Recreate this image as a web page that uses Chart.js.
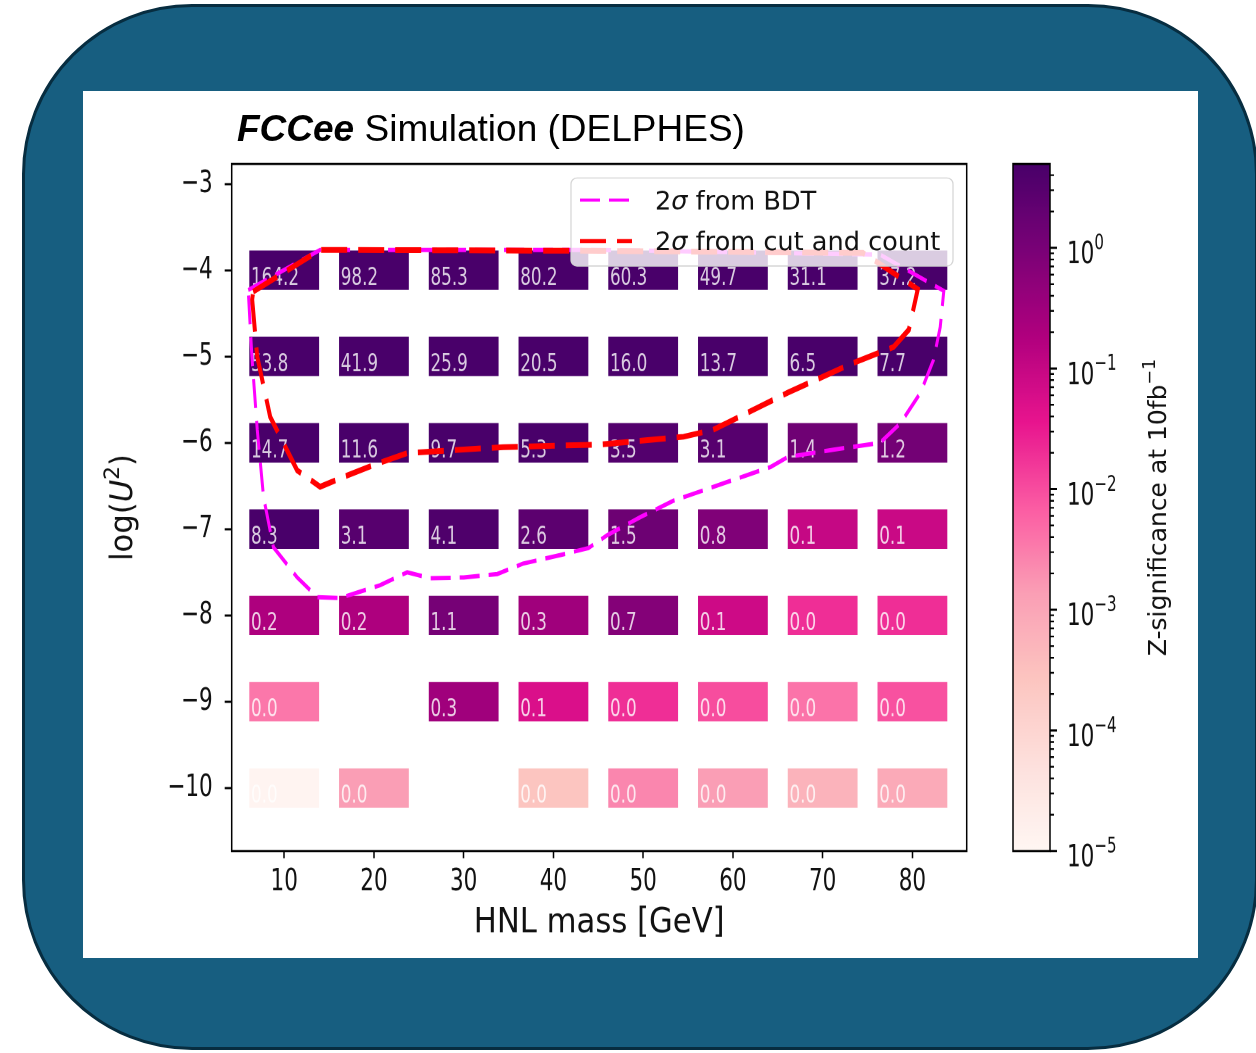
<!DOCTYPE html>
<html>
<head>
<meta charset="utf-8">
<script src="https://cdn.jsdelivr.net/npm/chart.js@4.4.1/dist/chart.umd.min.js"></script>
<style>
  html, body { margin: 0; padding: 0; background: #fff; }
  body { width: 1256px; height: 1053px; position: relative; overflow: hidden; }
  #frame {
    position: absolute; left: 22px; top: 4px; width: 1236px; height: 1046px;
    box-sizing: border-box; border-radius: 170px;
    background: #175e80; border: 3px solid #072d40;
  }
  #panel { position: absolute; left: 83px; top: 91px; width: 1115px; height: 867px; background: #fff; }
  #title {
    position: absolute; left: 237px; top: 110px; white-space: nowrap;
    font: 37px "Liberation Sans", Arial, sans-serif; line-height: 37px; color: #000;
  }
  #title b { font-style: italic; }
  #stretch {
    position: absolute; left: 0; top: 0; width: 1256px; height: 726.2px;
    transform-origin: 0 0; transform: scaleY(1.45);
  }
</style>
</head>
<body>
<div id="frame"></div>
<div id="panel"></div>
<div id="stretch"><canvas id="chart"></canvas></div>
<div id="title"><b>FCCee</b> Simulation (DELPHES)</div>

<script>
// the matplotlib picture was pasted stretched vertically by this factor
const STRETCH = 1.45;

const masses = [10, 20, 30, 40, 50, 60, 70, 80];
const logU2Rows = [-4, -5, -6, -7, -8, -9, -10];

// Z-significance per row (log U^2 = -4 ... -10), null = no cell
const zRowM4 = [164.2, 98.2, 85.3, 80.2, 60.3, 49.7, 31.1, 37.2];
const zRowM5 = [53.8, 41.9, 25.9, 20.5, 16.0, 13.7, 6.5, 7.7];
const zRowM6 = [14.7, 11.6, 9.7, 5.3, 3.5, 3.1, 1.4, 1.2];
const zRowM7 = [8.3, 3.1, 4.1, 2.6, 1.5, 0.8, 0.1, 0.09];
const zRowM8 = [0.2, 0.2, 1.1, 0.3, 0.7, 0.08, 0.02, 0.02];
const zRowM9 = [0.0036, null, 0.3, 0.055, 0.02, 0.01, 0.004, 0.009];
const zRowM10 = [0.000012, 0.0014, null, 0.00026, 0.0025, 0.0014, 0.00058, 0.00086];
const zRows = [zRowM4, zRowM5, zRowM6, zRowM7, zRowM8, zRowM9, zRowM10];

// 2 sigma contour from BDT
const bdtMass = [5.99, 14.0, 45.2, 76.4, 83.5, 83.1, 82.35, 80.9, 78.7, 76.4, 71.2, 66.1, 64.2,
  53.4, 49.7, 46.0, 43.9, 40.8, 36.6, 33.75, 30.0, 26.3, 23.7, 20.7, 16.2, 13.7, 11.45, 8.8,
  7.7, 7.0, 6.4, 5.99];
const bdtLogU2 = [-4.23, -3.765, -3.765, -3.82, -4.24, -4.66, -5.04, -5.42, -5.77, -6.0, -6.08,
  -6.165, -6.28, -6.67, -6.86, -7.07, -7.22, -7.30, -7.40, -7.52, -7.56, -7.57, -7.50, -7.65,
  -7.80, -7.79, -7.56, -7.21, -6.63, -5.85, -5.0, -4.23];

// 2 sigma contour from cut and count
const cutMass = [6.54, 14.0, 45.2, 74.5, 80.6, 79.6, 77.9, 73.4, 66.1, 57.8, 54.5, 45.2, 34.4,
  23.7, 20.4, 17.0, 14.0, 11.45, 8.44, 6.99, 6.43, 6.54];
const cutLogU2 = [-4.25, -3.765, -3.776, -3.80, -4.22, -4.69, -4.89, -5.075, -5.42, -5.85, -5.93,
  -6.02, -6.05, -6.12, -6.24, -6.38, -6.51, -6.32, -5.70, -5.0, -4.34, -4.25];

const xTicks = [10, 20, 30, 40, 50, 60, 70, 80];
const yTicks = [-3, -4, -5, -6, -7, -8, -9, -10];
const zTicks = [1e-5, 1e-4, 1e-3, 1e-2, 1e-1, 1];
const zTickExp = ["\u22125", "\u22124", "\u22123", "\u22122", "\u22121", "0"];

const xMin = 4.15, xMax = 86.05;
const yMin = -10.73, yMax = -2.77;
const zMin = 1e-5, zMax = 4.95;

const cmapStops = ["#fff7f3", "#fde0dd", "#fcc5c0", "#fa9fb5", "#fb5ca3",
  "#e8148e", "#b0007e", "#7a0177", "#49006a"];


function hexToRgb(h) {
  const n = parseInt(h.slice(1), 16);
  return [n >> 16, (n >> 8) & 255, n & 255];
}

const cmapRgb = cmapStops.map(hexToRgb);

function cmap(f) {
  f = Math.min(1, Math.max(0, f));
  const p = f * (cmapRgb.length - 1);
  const i = Math.min(cmapRgb.length - 2, Math.floor(p));
  const t = p - i;
  const a = cmapRgb[i];
  const b = cmapRgb[i + 1];
  const c = a.map((v, k) => Math.round(v + (b[k] - v) * t));
  return `rgb(${c[0]},${c[1]},${c[2]})`;
}

function zColor(z) {
  const lo = Math.log10(zMin);
  const hi = Math.log10(zMax);
  return cmap((Math.log10(z) - lo) / (hi - lo));
}


const cells = [];

zRows.forEach((row, r) => {
  row.forEach((z, c) => {
    if (z === null) {
      return;
    }
    const u = logU2Rows[r];
    cells.push({ x: masses[c], y: [u - 0.245, u + 0.245], u: u, z: z });
  });
});


function font(size, style) {
  return `${style || ""} ${size}px "DejaVu Sans"`.trim();
}

// draws text pieces one after another
function drawParts(ctx, parts, x, y) {
  let total = 0;
  parts.forEach(p => {
    ctx.font = p.font;
    p.w = ctx.measureText(p.text).width;
    total += p.w;
  });
  let cx = x === "center" ? -total / 2 : x;
  parts.forEach(p => {
    ctx.font = p.font;
    ctx.fillText(p.text, cx, y + (p.dy || 0));
    cx += p.w;
  });
}


const cellLabels = {
  id: "cellLabels",
  afterDatasetDraw(chart, args) {
    if (args.meta.type !== "bar") {
      return;
    }
    const { ctx } = chart;
    const xs = chart.scales.x;
    const ys = chart.scales.y;

    ctx.save();
    ctx.font = font(16.8);
    ctx.fillStyle = "rgba(255,255,255,0.8)";
    ctx.textAlign = "left";
    ctx.textBaseline = "alphabetic";
    cells.forEach(c => {
      ctx.fillText(c.z.toFixed(1), xs.getPixelForValue(c.x - 3.7), ys.getPixelForValue(c.u - 0.17));
    });
    ctx.restore();
  }
};


const extras = {
  id: "extras",
  afterDraw(chart) {
    const { ctx, chartArea } = chart;
    const area = chartArea;

    // axes frame
    ctx.save();
    ctx.strokeStyle = "#000";
    ctx.lineWidth = 1.5;
    ctx.strokeRect(area.left, area.top, area.right - area.left, area.bottom - area.top);
    ctx.restore();

    // colour bar, mapped with the hidden log scale
    const zs = chart.scales.z;
    const top = zs.getPixelForValue(zMax);
    const bottom = zs.getPixelForValue(zMin);
    const x0 = area.right + 46.3;
    const w = 37;

    ctx.save();
    const grad = ctx.createLinearGradient(0, bottom, 0, top);
    for (let i = 0; i <= 48; i++) {
      grad.addColorStop(i / 48, cmap(i / 48));
    }
    ctx.fillStyle = grad;
    ctx.fillRect(x0, top, w, bottom - top);
    ctx.strokeStyle = "#000";
    ctx.lineWidth = 1.5;
    ctx.strokeRect(x0, top, w, bottom - top);

    ctx.lineWidth = 1.2;
    ctx.beginPath();
    for (let d = -5; d <= 0; d++) {
      for (let k = 2; k <= 9; k++) {
        const v = k * Math.pow(10, d);
        if (v > zMax) {
          continue;
        }
        const py = zs.getPixelForValue(v);
        ctx.moveTo(x0 + w, py);
        ctx.lineTo(x0 + w + 4, py);
      }
    }
    ctx.stroke();

    ctx.lineWidth = 1.5;
    ctx.beginPath();
    zTicks.forEach(v => {
      const py = zs.getPixelForValue(v);
      ctx.moveTo(x0 + w, py);
      ctx.lineTo(x0 + w + 7, py);
    });
    ctx.stroke();

    const ls = 21.5;
    ctx.fillStyle = "#111";
    ctx.textAlign = "left";
    ctx.textBaseline = "alphabetic";
    zTicks.forEach((v, i) => {
      const py = zs.getPixelForValue(v);
      drawParts(ctx, [
        { text: "10", font: font(ls) },
        { text: zTickExp[i], font: font(ls * 0.7), dy: -0.45 * ls }
      ], x0 + w + 17, py + 0.5 * ls);
    });
    ctx.restore();

    // the following items were pasted unstretched: draw them in page pixels
    ctx.save();
    ctx.scale(1, 1 / STRETCH);
    const midY = (area.top + area.bottom) / 2 * STRETCH;

    // x title, only slightly taller than wide
    const xs = 30.7;
    ctx.save();
    ctx.translate((area.left + area.right) / 2, area.bottom * STRETCH + 81);
    ctx.scale(1, 1.12);
    ctx.fillStyle = "#111";
    ctx.textAlign = "left";
    ctx.textBaseline = "alphabetic";
    drawParts(ctx, [{ text: "HNL mass [GeV]", font: font(xs) }], "center", 0);
    ctx.restore();

    // y title log(U^2)
    const ts = 30.7;
    ctx.save();
    ctx.translate(121, midY);
    ctx.rotate(-Math.PI / 2);
    ctx.fillStyle = "#111";
    ctx.textAlign = "left";
    ctx.textBaseline = "alphabetic";
    drawParts(ctx, [
      { text: "log(", font: font(ts) },
      { text: "U", font: font(ts, "oblique") },
      { text: "2", font: font(ts * 0.7), dy: -0.42 * ts },
      { text: ")", font: font(ts) }
    ], "center", 0.36 * ts);
    ctx.restore();

    // colour bar title
    const cs = 25;
    ctx.save();
    ctx.translate(1157, midY);
    ctx.rotate(-Math.PI / 2);
    ctx.fillStyle = "#111";
    ctx.textAlign = "left";
    ctx.textBaseline = "alphabetic";
    drawParts(ctx, [
      { text: "Z-significance at 10fb", font: font(cs) },
      { text: "\u22121", font: font(cs * 0.7), dy: -0.45 * cs }
    ], "center", 0.36 * cs);
    ctx.restore();

    // legend
    const bw = 382;
    const bh = 88;
    const bx = area.right - 13.7 - bw;
    const by = area.top * STRETCH + 14;
    ctx.beginPath();
    ctx.roundRect(bx, by, bw, bh, 6);
    ctx.fillStyle = "rgba(255,255,255,0.8)";
    ctx.fill();
    ctx.strokeStyle = "#d4d4d4";
    ctx.lineWidth = 1.2;
    ctx.stroke();

    const items = [chart.data.datasets[1], chart.data.datasets[0]];
    const fs = 25.6;
    items.forEach((ds, i) => {
      const cy = by + 22 + i * 41;
      ctx.save();
      ctx.strokeStyle = ds.borderColor;
      ctx.lineWidth = ds.borderWidth;
      ctx.setLineDash(ds.borderDash);
      ctx.beginPath();
      ctx.moveTo(bx + 9, cy);
      ctx.lineTo(bx + 61, cy);
      ctx.stroke();
      ctx.restore();

      ctx.fillStyle = "#111";
      ctx.textAlign = "left";
      ctx.textBaseline = "alphabetic";
      drawParts(ctx, [
        { text: "2", font: font(fs) },
        { text: "\u03c3", font: font(fs, "oblique") },
        { text: ds.label.slice(2), font: font(fs) }
      ], bx + 84, cy + 0.36 * fs);
    });
    ctx.restore();
  }
};


const canvas = document.getElementById("chart");

new Chart(canvas.getContext("2d"), {
  type: "bar",
  data: {
    datasets: [
      {
        type: "line",
        label: "2σ from cut and count",
        data: cutMass.map((m, i) => ({ x: m, y: cutLogU2[i] })),
        borderColor: "#ff0000",
        borderWidth: 4,
        borderDash: [26, 11],
        pointRadius: 0,
        fill: false,
        tension: 0,
        order: 0
      },
      {
        type: "line",
        label: "2σ from BDT",
        data: bdtMass.map((m, i) => ({ x: m, y: bdtLogU2[i] })),
        borderColor: "#ff00ff",
        borderWidth: 3,
        borderDash: [20, 9],
        pointRadius: 0,
        fill: false,
        tension: 0,
        order: 1
      },
      {
        type: "bar",
        label: "Z-significance",
        data: cells,
        backgroundColor: c => (c.raw ? zColor(c.raw.z) : "#000"),
        borderColor: "rgba(255,255,255,0.45)",
        borderWidth: 1,
        borderSkipped: false,
        barPercentage: 0.8,
        categoryPercentage: 1,
        order: 2
      }
    ]
  },
  options: {
    responsive: true,
    maintainAspectRatio: false,
    animation: false,
    devicePixelRatio: 2,
    events: [],
    layout: {
      padding: { left: 111.7, right: 289.3, top: 113.1, bottom: 75.3 }
    },
    plugins: {
      legend: { display: false },
      tooltip: { enabled: false }
    },
    scales: {
      x: {
        type: "linear",
        min: xMin,
        max: xMax,
        offset: false,
        afterBuildTicks: s => { s.ticks = xTicks.map(v => ({ value: v })); },
        afterFit: s => { s.height = 64; },
        grid: { drawOnChartArea: false, drawTicks: true, tickLength: 5, tickWidth: 1.5, tickColor: "#000", offset: false },
        border: { display: false },
        ticks: { color: "#111", font: { family: "DejaVu Sans", size: 21.5 }, padding: 3.5, maxRotation: 0, autoSkip: false },
        title: { display: false, text: "HNL mass [GeV]" }
      },
      y: {
        type: "linear",
        min: yMin,
        max: yMax,
        afterBuildTicks: s => { s.ticks = yTicks.map(v => ({ value: v })); },
        afterFit: s => { s.width = 120; },
        grid: { drawOnChartArea: false, drawTicks: true, tickLength: 7, tickWidth: 1.5, tickColor: "#000" },
        border: { display: false },
        ticks: {
          color: "#111",
          font: { family: "DejaVu Sans", size: 21.5 },
          padding: 12,
          autoSkip: false,
          callback: v => String(v).replace("-", "\u2212")
        }
      },
      z: {
        type: "logarithmic",
        position: "right",
        display: false,
        min: zMin,
        max: zMax
      }
    }
  },
  plugins: [cellLabels, extras]
});
</script>
</body>
</html>
